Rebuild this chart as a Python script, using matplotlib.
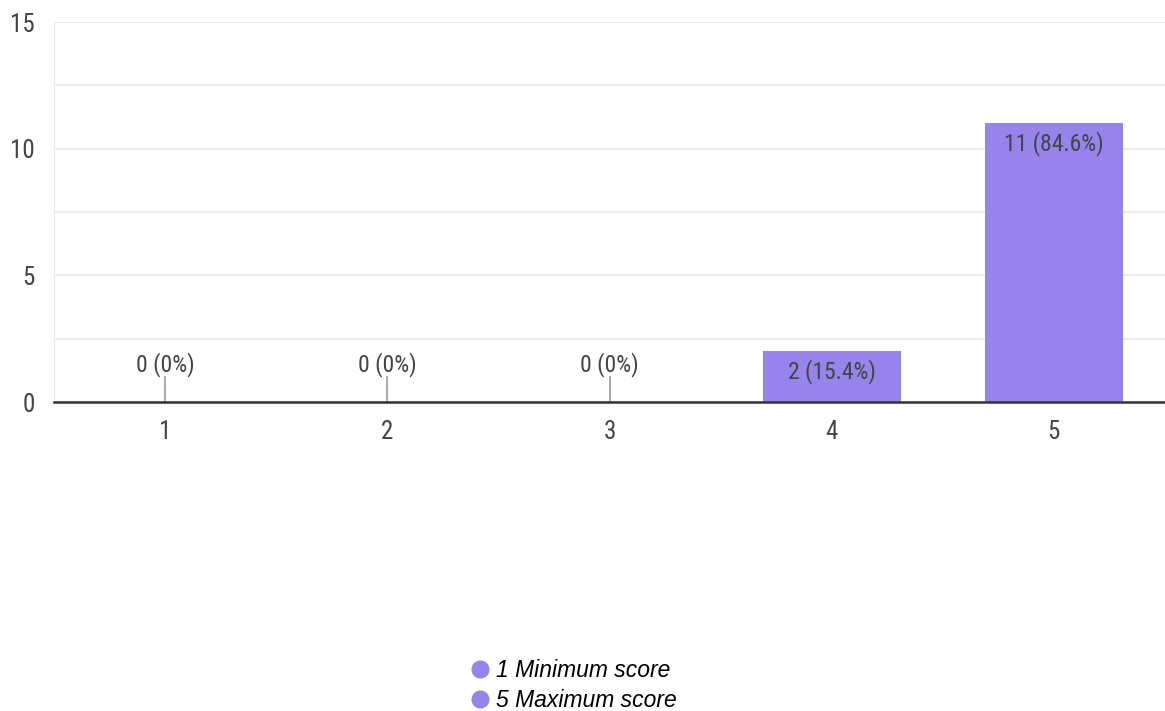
import matplotlib.pyplot as plt
from matplotlib.lines import Line2D
from matplotlib import font_manager

# data
scores = [1, 2, 3, 4, 5]
counts = [0, 0, 0, 2, 11]
percents = ['0%', '0%', '0%', '15.4%', '84.6%']
legend_labels = ['1 Minimum score', '5 Maximum score']

bar_color = '#9683ec'
text_color = '#444444'

# pick a narrow font if available
names = {f.name for f in font_manager.fontManager.ttflist}
font = 'Roboto'
for cand in ['Roboto Condensed', 'Liberation Sans Narrow', 'Open Sans Condensed']:
    if cand in names:
        font = cand
        break
plt.rcParams['font.family'] = [font, 'DejaVu Sans']

fig = plt.figure(figsize=(11.65, 7.11), dpi=100)
ax = fig.add_axes([54 / 1165, 309 / 711, 1111 / 1165, 380 / 711])

ax.bar(scores, counts, width=0.62, color=bar_color, zorder=3)

for x, c, p in zip(scores, counts, percents):
    label = f'{c} ({p})'
    if c == 0:
        # small stem for empty categories
        ax.plot([x, x], [0, 1], color='#999999', lw=1.2, zorder=3)
        ax.text(x, 1.0, label, ha='center', va='bottom', fontsize=17, color=text_color)
    else:
        ax.text(x, c - 0.3, label, ha='center', va='top', fontsize=17, color=text_color, zorder=4)

ax.set_xlim(0.5, 5.5)
ax.set_ylim(0, 15)
ax.set_yticks([0, 5, 10, 15])
ax.set_yticks([2.5, 7.5, 12.5], minor=True)
ax.set_xticks(scores)
ax.set_xticklabels([str(s) for s in scores])

ax.grid(axis='y', which='both', color='#ebebeb', lw=1.5, zorder=0)
for side in ['top', 'right', 'left']:
    ax.spines[side].set_visible(False)
ax.spines['bottom'].set_color('#333333')
ax.spines['bottom'].set_linewidth(1.8)
ax.spines['bottom'].set_zorder(5)

ax.tick_params(axis='both', which='both', length=0, labelsize=18, colors=text_color)
ax.tick_params(axis='x', pad=13)
ax.tick_params(axis='y', pad=14)

# left vertical light line like the reference frame
ax.axvline(0.5, color='#ebebeb', lw=1.5, zorder=0)

handles = [Line2D([], [], marker='o', ls='none', color=bar_color, markersize=12) for _ in legend_labels]
fig.legend(handles, legend_labels, loc='upper left', bbox_to_anchor=(448 / 1165, 1 - 650 / 711),
           frameon=False, handletextpad=-0.3, labelspacing=0.3, borderaxespad=0,
           prop={'family': 'Liberation Sans', 'style': 'italic', 'size': 16.5})

fig.savefig('out.png', dpi=100)
